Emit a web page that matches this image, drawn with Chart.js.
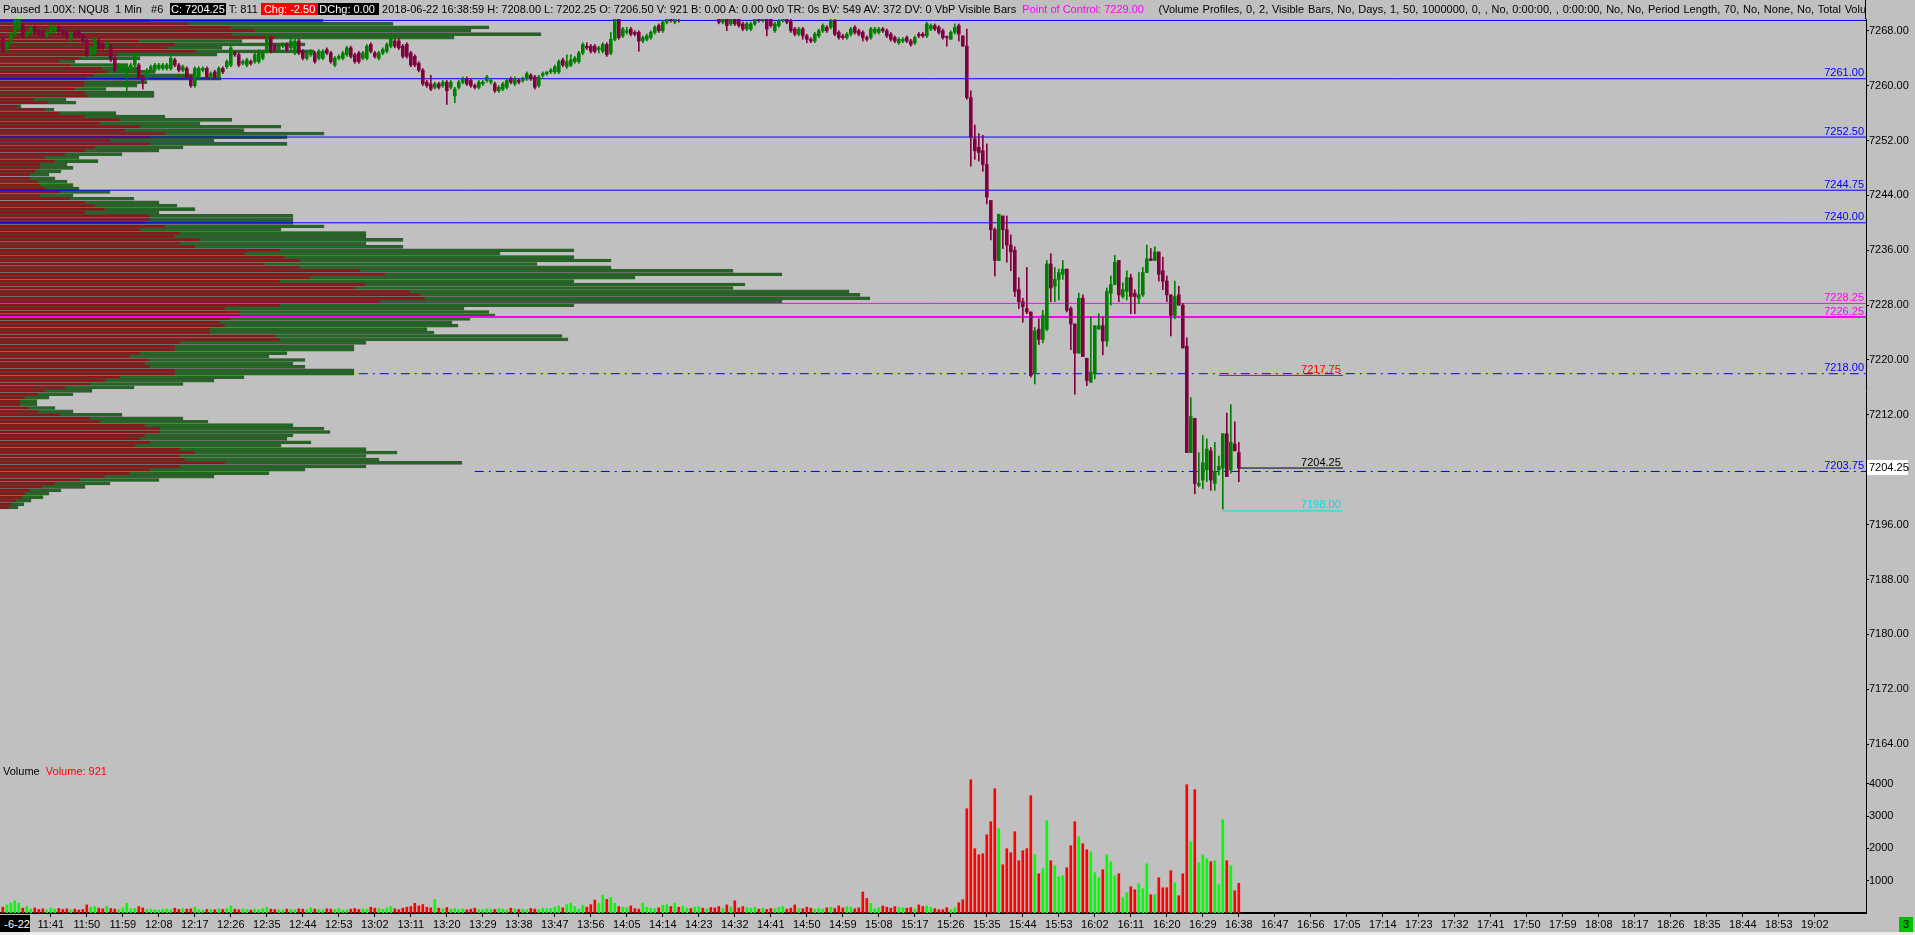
<!DOCTYPE html>
<html>
<head>
<meta charset="utf-8">
<script src="https://cdn.jsdelivr.net/npm/chart.js@4.4.0/dist/chart.umd.min.js"></script>
<style>
  html, body { margin: 0; padding: 0; background: #c0c0c0; overflow: hidden; }
  #wrap { position: relative; width: 1915px; height: 935px; font-family: "Liberation Sans", Arial, sans-serif; }
  canvas { position: absolute; left: 0; top: 0; }
  #header { position: absolute; left: 0; top: 0; width: 1865px; height: 18px; overflow: hidden; white-space: pre; font-size: 11px; line-height: 18px; color: #000; }
  #header .lead { display: inline-block; width: 170px; }
  #header .blk { background: #000; color: #fff; padding: 0 1px; }
  #header .red { background: #ff0000; color: #fff; padding: 0 3px; }
  #header .mag { color: #ff00ff; }
  #header .tail { margin-left: 7px; word-spacing: 0.7px; }
  #axisTop { position: absolute; left: 1865px; top: 0; width: 1px; height: 19px; background: #000; }
  #volTitle { position: absolute; left: 3px; top: 765px; font-size: 11px; white-space: pre; }
  #volTitle span { color: #ff0000; }
  #dateBox { position: absolute; left: 0; top: 915px; width: 30px; height: 18px; background: #000; color: #fff; font-size: 11px; line-height: 18px; text-align: right; overflow: hidden; }
  #okBox { position: absolute; left: 1899px; top: 917px; width: 14px; height: 15px; background: #00c000; color: #000; font-size: 11px; line-height: 15px; text-align: center; }
  #strip { position: absolute; left: 0; top: 932px; width: 1915px; height: 3px; background: #ececec; }
</style>
</head>
<body>
<div id="wrap">
  <canvas id="profile" width="1915" height="935"></canvas>
  <canvas id="chart" width="1915" height="935"></canvas>
  <div id="header"><span class="lead"> Paused 1.00X: NQU8  1 Min   #6</span><span class="blk">C: 7204.25</span> T: 811 <span class="red">Chg: -2.50</span><span class="blk">DChg: 0.00 </span> 2018-06-22 16:38:59 H: 7208.00 L: 7202.25 O: 7206.50 V: 921 B: 0.00 A: 0.00 0x0 TR: 0s BV: 549 AV: 372 DV: 0 VbP Visible Bars  <span class="mag">Point of Control: 7229.00</span><span class="tail">  (Volume Profiles, 0, 2, Visible Bars, No, Days, 1, 50, 1000000, 0, , No, 0:00:00, , 0:00:00, No, No, Period Length, 70, No, None, No, Total Volume)</span></div>
  <div id="axisTop"></div>
  <div id="volTitle">Volume  <span>Volume: 921</span></div>
  <div id="dateBox">-6-22</div>
  <div id="okBox">3</div>
  <div id="strip"></div>
</div>
<script>
// one-minute bars, NQU8, from 11:29 to 16:38
const firstBar = '11:29';

const openP = [
  7266.75, 7265.25, 7266.25, 7267.5, 7268.25, 7268.75, 7267.25, 7267.75, 7268.5, 7268.0,
  7267.75, 7267.25, 7267.75, 7268.0, 7268.5, 7268.0, 7267.75, 7266.75, 7267.75, 7268.0,
  7267.25, 7266.5, 7264.5, 7264.75, 7266.5, 7266.0, 7265.5, 7265.75, 7264.0, 7262.25,
  7262.25, 7262.25, 7262.25, 7263.0, 7263.0, 7261.25, 7261.25, 7262.25, 7262.25, 7262.5,
  7262.5, 7262.5, 7262.5, 7263.75, 7263.0, 7262.25, 7262.5, 7261.25, 7260.0, 7261.25,
  7262.25, 7262.5, 7261.25, 7262.0, 7261.25, 7262.5, 7262.75, 7263.0, 7264.75, 7264.5,
  7263.25, 7263.0, 7263.5, 7263.5, 7263.5, 7264.0, 7265.0, 7266.75, 7265.75, 7265.25,
  7265.75, 7266.0, 7265.5, 7264.75, 7266.5, 7265.0, 7264.0, 7264.5, 7264.75, 7264.0,
  7264.0, 7265.25, 7264.75, 7263.0, 7264.0, 7264.0, 7264.5, 7265.5, 7264.5, 7264.75,
  7264.0, 7264.0, 7266.0, 7264.75, 7264.0, 7264.75, 7265.0, 7265.75, 7266.5, 7266.5,
  7265.75, 7266.0, 7264.75, 7264.25, 7263.25, 7262.25, 7260.5, 7260.25, 7259.75, 7260.25,
  7260.0, 7260.5, 7259.75, 7258.5, 7259.75, 7260.5, 7261.0, 7260.75, 7260.0, 7259.75,
  7260.25, 7260.75, 7260.5, 7260.25, 7259.25, 7259.5, 7259.75, 7261.0, 7260.25, 7260.75,
  7260.75, 7261.0, 7261.5, 7261.25, 7260.0, 7261.5, 7261.75, 7262.0, 7262.0, 7262.0,
  7263.75, 7262.75, 7263.0, 7263.5, 7263.5, 7264.75, 7265.75, 7265.75, 7265.75, 7265.25,
  7265.0, 7266.0, 7264.75, 7266.75, 7270.0, 7267.25, 7267.75, 7268.25, 7267.75, 7267.75,
  7266.5, 7266.75, 7267.0, 7267.75, 7268.75, 7268.0, 7269.25, 7270.5, 7269.25, 7270.5,
  7270.5, 7271.25, 7271.75, 7271.0, 7271.5, 7272.0, 7271.25, 7271.5, 7270.75, 7270.25,
  7269.25, 7270.25, 7269.0, 7270.0, 7270.0, 7269.0, 7268.25, 7268.25, 7269.0, 7270.0,
  7269.5, 7270.0, 7270.0, 7268.0, 7268.75, 7269.5, 7270.0, 7269.5, 7268.25, 7267.5,
  7268.25, 7267.25, 7266.75, 7266.5, 7267.25, 7268.0, 7268.5, 7268.5, 7269.5, 7267.75,
  7267.25, 7267.0, 7267.5, 7268.5, 7268.0, 7267.75, 7267.0, 7267.0, 7267.75, 7267.75,
  7268.25, 7268.0, 7267.5, 7267.0, 7266.25, 7266.5, 7267.0, 7266.5, 7266.25, 7267.5,
  7267.5, 7267.25, 7268.25, 7268.75, 7268.5, 7268.0, 7267.0, 7266.75, 7267.75, 7268.75,
  7267.25, 7265.75, 7258.25, 7252.25, 7251.0, 7250.5, 7248.5, 7243.25, 7239.0, 7234.5,
  7241.0, 7239.0, 7236.75, 7236.0, 7230.25, 7228.5, 7227.5, 7227.0, 7218.0, 7224.5,
  7223.0, 7224.5, 7234.0, 7230.75, 7231.75, 7232.5, 7233.25, 7227.5, 7225.25, 7221.0,
  7229.0, 7220.25, 7216.75, 7218.0, 7224.5, 7225.0, 7222.75, 7229.75, 7231.0, 7234.5,
  7229.25, 7230.0, 7232.0, 7229.75, 7229.0, 7229.5, 7232.75, 7234.75, 7234.5, 7235.75,
  7233.0, 7231.5, 7229.5, 7226.5, 7229.5, 7228.0, 7222.0, 7206.5, 7211.5, 7201.75,
  7202.5, 7204.0, 7206.75, 7202.0, 7204.0, 7204.25, 7209.25, 7204.0, 7207.75, 7206.5
];
const highP = [
  7267.0, 7266.5, 7267.75, 7269.75, 7269.75, 7269.0, 7268.0, 7268.75, 7268.75, 7268.25,
  7268.0, 7268.0, 7269.0, 7268.75, 7268.75, 7268.25, 7268.0, 7267.75, 7268.0, 7268.25,
  7267.5, 7266.75, 7265.75, 7267.0, 7266.75, 7266.25, 7266.5, 7266.0, 7264.25, 7263.25,
  7263.0, 7263.0, 7263.25, 7264.75, 7263.25, 7261.5, 7262.5, 7263.0, 7263.25, 7263.25,
  7263.25, 7263.25, 7264.25, 7264.0, 7263.25, 7263.0, 7262.75, 7261.5, 7262.75, 7262.75,
  7262.75, 7262.75, 7262.0, 7262.25, 7262.75, 7262.75, 7263.75, 7265.75, 7265.0, 7264.75,
  7263.75, 7264.0, 7263.75, 7264.75, 7265.25, 7265.0, 7267.25, 7267.0, 7266.0, 7266.0,
  7266.25, 7266.25, 7266.75, 7266.75, 7266.75, 7265.25, 7265.0, 7265.25, 7265.0, 7265.25,
  7265.25, 7265.5, 7265.0, 7264.25, 7264.5, 7265.0, 7265.75, 7265.75, 7264.75, 7265.0,
  7265.0, 7266.0, 7266.25, 7265.0, 7265.0, 7265.5, 7266.25, 7267.25, 7266.75, 7266.75,
  7266.0, 7266.25, 7265.0, 7264.5, 7263.5, 7262.5, 7260.75, 7261.5, 7260.5, 7260.5,
  7260.75, 7260.75, 7260.75, 7259.75, 7260.75, 7261.25, 7261.25, 7261.0, 7260.25, 7260.75,
  7260.75, 7261.5, 7261.0, 7260.5, 7260.0, 7260.5, 7261.0, 7261.25, 7261.25, 7261.0,
  7261.25, 7262.0, 7261.75, 7261.5, 7261.5, 7262.0, 7262.0, 7262.5, 7263.0, 7263.75,
  7264.0, 7264.5, 7264.5, 7264.25, 7265.0, 7266.25, 7266.25, 7266.0, 7266.0, 7265.75,
  7266.25, 7266.25, 7267.75, 7270.5, 7270.5, 7268.5, 7268.5, 7268.5, 7268.0, 7268.0,
  7267.25, 7267.5, 7268.0, 7268.75, 7269.0, 7269.5, 7270.75, 7270.75, 7270.5, 7270.75,
  7271.5, 7272.0, 7272.0, 7271.75, 7272.25, 7272.25, 7271.75, 7271.75, 7271.0, 7270.5,
  7270.5, 7270.5, 7270.5, 7270.25, 7270.25, 7269.25, 7269.25, 7269.25, 7270.0, 7270.25,
  7270.25, 7270.25, 7270.25, 7269.25, 7269.75, 7270.5, 7270.25, 7269.75, 7268.5, 7268.5,
  7268.5, 7267.5, 7267.0, 7267.75, 7268.25, 7269.0, 7268.75, 7269.75, 7269.75, 7268.0,
  7267.5, 7267.75, 7268.5, 7268.75, 7268.25, 7268.0, 7267.25, 7268.5, 7268.5, 7268.5,
  7268.5, 7268.25, 7267.75, 7267.25, 7267.0, 7267.0, 7267.25, 7266.75, 7267.25, 7267.75,
  7267.75, 7269.25, 7269.0, 7269.0, 7268.75, 7268.25, 7267.25, 7268.0, 7269.0, 7269.0,
  7267.25, 7268.25, 7259.25, 7254.25, 7253.0, 7252.75, 7251.5, 7243.25, 7239.25, 7241.25,
  7241.0, 7241.0, 7238.25, 7236.5, 7232.0, 7229.0, 7233.5, 7227.0, 7224.75, 7226.0,
  7227.25, 7234.5, 7235.5, 7233.5, 7233.25, 7234.5, 7233.25, 7227.75, 7225.25, 7229.75,
  7229.5, 7220.25, 7226.25, 7225.0, 7226.75, 7226.25, 7230.5, 7232.25, 7235.25, 7234.5,
  7231.25, 7233.0, 7232.5, 7230.25, 7232.75, 7233.5, 7236.75, 7236.25, 7236.5, 7235.75,
  7235.0, 7232.25, 7229.5, 7231.5, 7230.75, 7228.25, 7223.25, 7214.5, 7211.5, 7206.5,
  7209.0, 7208.5, 7207.25, 7208.0, 7206.0, 7209.25, 7212.25, 7213.5, 7211.0, 7208.0
];
const lowP = [
  7265.0, 7265.0, 7266.0, 7267.25, 7268.0, 7267.0, 7267.0, 7267.5, 7267.5, 7267.25,
  7267.0, 7267.0, 7267.5, 7267.75, 7267.75, 7267.25, 7266.75, 7266.5, 7267.0, 7267.0,
  7266.25, 7264.25, 7264.25, 7264.5, 7265.25, 7265.25, 7265.25, 7263.5, 7262.0, 7262.0,
  7262.0, 7259.25, 7262.0, 7262.75, 7261.0, 7259.5, 7261.0, 7262.0, 7262.0, 7262.25,
  7262.25, 7262.25, 7262.25, 7262.75, 7262.0, 7262.0, 7261.0, 7259.75, 7259.75, 7261.0,
  7262.0, 7261.0, 7261.0, 7261.0, 7261.0, 7261.75, 7262.5, 7262.75, 7264.25, 7262.75,
  7263.0, 7262.75, 7263.0, 7263.25, 7263.25, 7263.75, 7264.75, 7264.75, 7265.0, 7265.0,
  7265.5, 7265.0, 7265.25, 7264.5, 7264.5, 7263.75, 7263.75, 7264.25, 7263.25, 7263.75,
  7263.75, 7264.5, 7263.25, 7262.75, 7263.75, 7263.75, 7264.25, 7264.0, 7263.25, 7263.25,
  7263.75, 7263.75, 7264.75, 7264.0, 7263.75, 7264.5, 7264.75, 7265.5, 7265.5, 7265.25,
  7264.0, 7264.0, 7262.75, 7262.75, 7262.0, 7260.0, 7259.75, 7259.25, 7259.5, 7259.5,
  7259.75, 7257.25, 7259.5, 7257.5, 7259.5, 7260.25, 7260.0, 7259.75, 7259.5, 7259.5,
  7260.0, 7260.5, 7260.25, 7259.0, 7259.0, 7259.25, 7259.5, 7260.25, 7260.0, 7260.25,
  7260.5, 7260.75, 7260.75, 7259.5, 7259.75, 7261.25, 7261.5, 7261.75, 7261.75, 7261.75,
  7262.75, 7262.5, 7262.75, 7263.25, 7263.25, 7264.5, 7265.25, 7264.75, 7264.75, 7264.75,
  7264.75, 7264.25, 7264.5, 7266.5, 7266.75, 7267.0, 7267.5, 7267.25, 7267.25, 7265.0,
  7266.25, 7266.5, 7266.75, 7267.5, 7267.75, 7267.75, 7269.0, 7269.25, 7269.0, 7269.25,
  7270.25, 7271.0, 7270.75, 7270.75, 7271.25, 7271.0, 7271.0, 7270.5, 7270.25, 7269.0,
  7269.0, 7268.0, 7268.75, 7268.75, 7268.5, 7268.0, 7268.0, 7268.0, 7268.75, 7269.25,
  7269.25, 7267.25, 7268.5, 7267.75, 7268.5, 7269.25, 7269.0, 7267.75, 7267.25, 7267.25,
  7266.75, 7266.25, 7266.25, 7266.25, 7267.0, 7267.75, 7267.75, 7268.25, 7267.25, 7266.75,
  7266.75, 7266.75, 7267.25, 7267.5, 7267.25, 7266.5, 7266.5, 7266.75, 7267.5, 7267.5,
  7267.75, 7267.0, 7266.5, 7266.25, 7266.0, 7266.25, 7266.25, 7265.75, 7266.0, 7267.0,
  7267.0, 7267.0, 7268.0, 7268.0, 7267.5, 7266.75, 7265.75, 7266.75, 7267.5, 7266.5,
  7265.75, 7258.0, 7248.25, 7249.25, 7249.0, 7247.5, 7242.75, 7237.5, 7232.25, 7234.5,
  7236.25, 7234.25, 7233.0, 7229.25, 7227.5, 7225.5, 7226.75, 7217.5, 7216.5, 7222.25,
  7222.5, 7224.25, 7228.5, 7228.5, 7228.75, 7231.75, 7227.0, 7221.5, 7215.0, 7221.0,
  7220.5, 7216.25, 7216.75, 7217.25, 7224.5, 7220.75, 7222.0, 7228.0, 7231.0, 7228.5,
  7229.0, 7228.75, 7226.75, 7226.75, 7228.25, 7229.25, 7232.75, 7234.5, 7234.5, 7231.5,
  7230.25, 7228.5, 7223.5, 7226.0, 7228.0, 7221.75, 7206.5, 7206.5, 7200.5, 7201.5,
  7201.25, 7202.25, 7201.0, 7201.0, 7203.25, 7198.25, 7203.0, 7203.5, 7206.75, 7202.25
];
const closeP = [
  7265.25, 7266.25, 7267.5, 7269.5, 7269.5, 7267.25, 7267.75, 7268.5, 7267.75, 7267.5,
  7267.25, 7267.75, 7268.75, 7268.5, 7268.0, 7267.5, 7267.0, 7267.5, 7267.25, 7267.25,
  7266.5, 7264.5, 7265.5, 7266.75, 7265.5, 7265.5, 7266.25, 7263.75, 7262.25, 7263.0,
  7262.75, 7262.75, 7263.0, 7264.5, 7261.25, 7260.75, 7262.25, 7262.75, 7263.0, 7263.0,
  7263.0, 7263.0, 7264.0, 7263.0, 7262.25, 7262.75, 7261.25, 7260.0, 7262.5, 7262.5,
  7262.5, 7261.25, 7261.75, 7261.25, 7262.5, 7262.0, 7263.5, 7265.5, 7264.5, 7263.0,
  7263.5, 7263.75, 7263.25, 7264.5, 7265.0, 7264.75, 7267.0, 7265.0, 7265.25, 7265.75,
  7266.0, 7265.25, 7266.5, 7266.5, 7264.75, 7264.0, 7264.75, 7265.0, 7263.5, 7265.0,
  7265.0, 7264.75, 7263.5, 7264.0, 7264.25, 7264.75, 7265.5, 7264.25, 7263.5, 7263.5,
  7264.75, 7265.75, 7265.0, 7264.25, 7264.75, 7265.25, 7266.0, 7267.0, 7265.75, 7265.5,
  7264.25, 7264.25, 7263.0, 7263.0, 7262.25, 7260.25, 7260.0, 7259.5, 7260.25, 7259.75,
  7260.5, 7259.25, 7260.5, 7259.5, 7260.5, 7261.0, 7260.25, 7260.0, 7259.75, 7260.5,
  7260.5, 7261.25, 7260.75, 7259.25, 7259.75, 7260.25, 7260.75, 7260.5, 7261.0, 7260.5,
  7261.0, 7261.75, 7261.0, 7259.75, 7261.25, 7261.75, 7262.0, 7262.25, 7262.75, 7263.5,
  7263.0, 7263.5, 7263.75, 7264.0, 7264.75, 7266.0, 7265.5, 7265.0, 7265.0, 7265.5,
  7266.0, 7264.5, 7266.75, 7270.25, 7267.0, 7268.25, 7268.0, 7267.5, 7267.5, 7266.5,
  7267.0, 7267.25, 7267.75, 7268.5, 7268.0, 7269.25, 7270.5, 7269.5, 7270.25, 7270.25,
  7271.25, 7271.75, 7271.0, 7271.5, 7272.0, 7271.25, 7271.5, 7270.75, 7270.5, 7269.25,
  7270.25, 7268.75, 7270.25, 7269.0, 7268.75, 7268.25, 7269.0, 7269.0, 7269.75, 7269.5,
  7270.0, 7268.25, 7268.75, 7269.0, 7269.5, 7270.25, 7269.25, 7268.0, 7267.5, 7268.25,
  7267.25, 7266.75, 7266.5, 7267.5, 7268.0, 7268.75, 7268.0, 7269.5, 7267.5, 7267.0,
  7267.0, 7267.5, 7268.25, 7267.75, 7267.5, 7267.0, 7266.75, 7268.25, 7268.25, 7268.25,
  7268.0, 7267.25, 7266.75, 7266.5, 7266.75, 7266.75, 7266.5, 7266.0, 7267.0, 7267.25,
  7267.25, 7269.0, 7268.75, 7268.25, 7267.75, 7267.0, 7267.0, 7267.75, 7268.5, 7267.5,
  7265.75, 7258.25, 7252.5, 7250.5, 7250.25, 7248.5, 7243.75, 7239.0, 7234.5, 7241.25,
  7239.0, 7236.75, 7235.75, 7230.0, 7228.5, 7227.75, 7227.0, 7217.75, 7224.25, 7223.0,
  7226.5, 7234.0, 7230.5, 7231.75, 7232.75, 7233.25, 7227.25, 7225.25, 7221.0, 7229.0,
  7220.5, 7217.0, 7218.25, 7225.0, 7225.0, 7222.75, 7230.0, 7231.0, 7234.25, 7229.5,
  7230.25, 7232.0, 7229.25, 7229.25, 7229.5, 7232.75, 7234.75, 7234.5, 7235.75, 7232.5,
  7231.5, 7229.5, 7226.5, 7229.25, 7228.0, 7221.75, 7206.5, 7211.75, 7202.0, 7202.0,
  7205.0, 7207.0, 7202.5, 7203.75, 7204.5, 7209.25, 7203.0, 7208.0, 7206.75, 7204.25
];
const volume = [
  180, 250, 310, 380, 300, 150, 200, 120, 160, 110,
  130, 100, 150, 120, 140, 110, 130, 100, 120, 90,
  110, 250, 180, 200, 150, 130, 210, 140, 120, 100,
  160, 300, 130, 140, 200, 160, 110, 120, 100, 90,
  120, 130, 100, 150, 110, 140, 120, 130, 180, 100,
  90, 110, 120, 100, 130, 110, 140, 220, 120, 100,
  130, 110, 90, 120, 100, 140, 180, 120, 110, 100,
  90, 120, 110, 100, 130, 120, 100, 160, 120, 110,
  100, 130, 120, 110, 140, 90, 100, 120, 140, 110,
  130, 120, 180, 150, 140, 110, 160, 200, 130, 100,
  150, 180, 200, 300, 220, 260, 180, 160, 420, 150,
  130, 170, 120, 140, 110, 130, 100, 120, 150, 110,
  100, 130, 120, 110, 140, 120, 100, 150, 130, 110,
  120, 100, 140, 120, 110, 150, 130, 140, 180, 220,
  160, 260, 300, 200, 120, 240, 180, 260, 400, 300,
  550, 420, 480, 300, 200, 180, 160, 220, 140, 120,
  300, 180, 150, 130, 160, 240, 260, 200, 300, 180,
  220, 160, 140, 180, 200, 150, 130, 170, 160, 200,
  140, 250, 190, 380, 160, 200, 170, 150, 180, 120,
  150, 110, 140, 130, 170, 200, 120, 150, 250, 140,
  130, 180, 150, 120, 140, 120, 160, 180, 140, 220,
  160, 200, 180, 130, 160, 650, 450, 300, 130, 160,
  220, 180, 150, 200, 170, 160, 150, 170, 130, 250,
  200, 220, 175, 133, 102, 100, 164, 100, 164, 319,
  412, 3229, 4127, 1991, 1805, 1836, 2424, 2827, 3848, 2610,
  1495, 1991, 1867, 2517, 1619, 1929, 1991, 3632, 1805, 1217,
  1372, 2858, 1619, 1465, 1124, 1155, 1403, 2084, 2827, 2362,
  2146, 1960, 1898, 1248, 1093, 1341, 1805, 1588, 1155, 1217,
  474, 628, 814, 721, 907, 752, 1526, 567, 567, 1093,
  783, 783, 1310, 938, 536, 1217, 3972, 2207, 3817, 1557,
  1805, 1681, 1588, 1619, 876, 2889, 1619, 1465, 690, 921
];

// volume profile, rows of 2 ticks (0.5 pt) from 7269.50 down
const profTop = 7269.5;
const profStep = 0.5;
const profSell = [
  600, 756, 924, 1020, 928, 1100, 556, 700, 672, 784,
  472, 320, 236, 284, 408, 428, 376, 344, 340, 336,
  300, 340, 352, 136, 192, 72, 180, 240, 340, 480,
  400, 560, 500, 660, 600, 440, 600, 380, 340, 260,
  180, 220, 160, 160, 140, 120, 120, 152, 160, 180,
  240, 160, 280, 340, 380, 420, 340, 600, 600, 580,
  660, 560, 720, 700, 800, 720, 780, 1120, 980, 1140,
  1200, 1060, 1200, 1440, 1540, 1240, 1120, 1460, 1420, 1640,
  1680, 1700, 1520, 1120, 900, 960, 960, 920, 880, 900,
  840, 840, 1100, 1120, 720, 700, 700, 560, 520, 600,
  580, 600, 700, 700, 480, 420, 360, 260, 180, 152,
  100, 80, 80, 112, 152, 240, 360, 400, 580, 640,
  640, 580, 560, 600, 540, 720, 780, 720, 740, 900,
  720, 600, 520, 420, 320, 220, 168, 120, 100, 88,
  64, 48, 36
];
const profBuy = [
  692, 816, 1032, 864, 1236, 716, 412, 520, 216, 472,
  396, 240, 64, 228, 140, 192, 404, 540, 248, 212,
  124, 276, 264, 128, 112, 12, 36, 224, 320, 448,
  400, 564, 476, 636, 548, 416, 548, 352, 296, 228,
  136, 172, 108, 132, 104, 76, 100, 116, 132, 136,
  200, 132, 256, 296, 328, 360, 296, 572, 572, 592,
  636, 564, 744, 764, 812, 744, 832, 1176, 1020, 1156,
  1244, 1088, 1244, 1492, 1588, 1300, 1176, 1520, 1512, 1756,
  1760, 1780, 1608, 1176, 956, 996, 1020, 960, 928, 932,
  868, 896, 1148, 1152, 744, 716, 716, 588, 556, 620,
  592, 620, 716, 716, 496, 436, 372, 276, 188, 140,
  96, 68, 68, 108, 140, 248, 372, 432, 592, 656,
  680, 592, 588, 644, 584, 744, 808, 744, 776, 948,
  744, 620, 556, 436, 316, 220, 172, 124, 96, 84,
  60, 48, 36
];

const priceTicks = [7164, 7168, 7172, 7176, 7180, 7184, 7188, 7192, 7196, 7200, 7204, 7208, 7212,
  7216, 7220, 7224, 7228, 7232, 7236, 7240, 7244, 7248, 7252, 7256, 7260, 7264, 7268];
const volTicks = [1000, 2000, 3000, 4000];
const timeLabels = ['11:41', '11:50', '11:59', '12:08', '12:17', '12:26', '12:35', '12:44', '12:53', '13:02',
  '13:11', '13:20', '13:29', '13:38', '13:47', '13:56', '14:05', '14:14', '14:23', '14:32',
  '14:41', '14:50', '14:59', '15:08', '15:17', '15:26', '15:35', '15:44', '15:53', '16:02',
  '16:11', '16:20', '16:29', '16:38', '16:47', '16:56', '17:05', '17:14', '17:23', '17:32',
  '17:41', '17:50', '17:59', '18:08', '18:17', '18:26', '18:35', '18:44', '18:53', '19:02'];

// drawn horizontal levels
const levelPrice = [7269.50, 7261.00, 7252.50, 7244.75, 7240.00, 7228.25, 7226.25, 7218.00, 7203.75];
const levelFrom  = ['11:28', '11:28', '11:28', '11:28', '11:28', '11:28', '11:28', '12:58', '13:27'];
// short markers to the right of the last bar
const markPrice = [7217.75, 7204.25, 7198.00];
const markFrom  = ['16:33', '16:38', '16:34'];
const markTo    = '17:04';
const lastPrice = 7204.25;

// ---- layout / style (not data) ----
const xMin = 688.3, xMax = 1154.8;       // minutes of day at chart edges
const pMin = 7161.25, pMax = 7269.71;
const vMax = 4644;
const profMax = 7464;
const levelStyle = [
  { color: '#0000ff', width: 1, dash: [], label: false },
  { color: '#0000ff', width: 1, dash: [], label: true },
  { color: '#0000ff', width: 1, dash: [], label: true },
  { color: '#0000ff', width: 1, dash: [], label: true },
  { color: '#0000ff', width: 1, dash: [], label: true },
  { color: '#ff00ff', width: 1, dash: [], label: true },
  { color: '#ff00ff', width: 2, dash: [], label: true },
  { color: '#0000ff', width: 1, dash: [9, 5, 2, 5], label: true },
  { color: '#0000ff', width: 1, dash: [9, 5, 2, 5], label: true }
];
const markColor = ['#ff0000', '#000000', '#00e0e0'];

const toMin = s => { const [h, m] = s.split(':').map(Number); return h * 60 + m; };
const t0 = toMin(firstBar);
const barX = openP.map((_, i) => t0 + i);
const isUp = openP.map((o, i) => closeP[i] > o);
const profPrice = profSell.map((_, i) => profTop - i * profStep);

const FONT = '"Liberation Sans", Arial, sans-serif';
Chart.defaults.font.family = FONT;
Chart.defaults.font.size = 11;
Chart.defaults.color = '#000';

// volume profile underneath the price pane
new Chart(document.getElementById('profile'), {
  type: 'bar',
  data: {
    datasets: [
      {
        label: 'sell',
        data: profPrice.map((p, i) => ({ x: profSell[i], y: p })),
        backgroundColor: '#8a1616',
        borderColor: '#4a4a4a',
        borderWidth: 0.6,
        barThickness: 3
      },
      {
        label: 'buy',
        data: profPrice.map((p, i) => ({ x: profBuy[i], y: p })),
        backgroundColor: '#1f6a1f',
        borderColor: '#4a4a4a',
        borderWidth: 0.6,
        barThickness: 3
      }
    ]
  },
  options: {
    indexAxis: 'y',
    responsive: false,
    animation: false,
    devicePixelRatio: 1,
    events: [],
    layout: { padding: { top: 19, left: 0, right: 49, bottom: 172 } },
    plugins: { legend: { display: false }, tooltip: { enabled: false } },
    scales: {
      x: { type: 'linear', min: 0, max: profMax, stacked: true, display: false },
      y: { type: 'linear', min: pMin, max: pMax, stacked: true, display: false, offset: false }
    }
  }
});

const levelSets = levelPrice.map((p, k) => ({
  type: 'line',
  yAxisID: 'price',
  data: [{ x: toMin(levelFrom[k]), y: p }, { x: xMax, y: p }],
  borderColor: levelStyle[k].color,
  borderWidth: levelStyle[k].width,
  borderDash: levelStyle[k].dash,
  pointRadius: 0,
  order: 5
}));
const markSets = markPrice.map((p, k) => ({
  type: 'line',
  yAxisID: 'price',
  data: [{ x: toMin(markFrom[k]), y: p }, { x: toMin(markTo), y: p }],
  borderColor: markColor[k],
  borderWidth: 1,
  pointRadius: 0,
  order: 4
}));

const labelPlugin = {
  id: 'labels',
  afterDatasetsDraw(chart) {
    const { ctx, chartArea } = chart;
    const x = chart.scales.x, y = chart.scales.price;
    ctx.save();
    ctx.font = '11px ' + FONT;
    ctx.textAlign = 'right';
    ctx.textBaseline = 'bottom';
    levelPrice.forEach((p, k) => {
      if (!levelStyle[k].label) return;
      ctx.fillStyle = levelStyle[k].color;
      ctx.fillText(p.toFixed(2), chartArea.right - 2, y.getPixelForValue(p));
    });
    markPrice.forEach((p, k) => {
      ctx.fillStyle = markColor[k];
      ctx.fillText(p.toFixed(2), x.getPixelForValue(toMin(markTo)) - 2, y.getPixelForValue(p));
    });
    // last price box on the axis
    const ly = y.getPixelForValue(lastPrice);
    ctx.fillStyle = '#fff';
    ctx.fillRect(chartArea.right + 1, ly - 8, 41, 15);
    ctx.fillStyle = '#000';
    ctx.textAlign = 'left';
    ctx.textBaseline = 'middle';
    ctx.fillText(lastPrice.toFixed(2), chartArea.right + 3, ly);
    ctx.restore();
  }
};

new Chart(document.getElementById('chart'), {
  type: 'bar',
  data: {
    datasets: [
      {
        label: 'body',
        yAxisID: 'price',
        data: barX.map((t, i) => ({ x: t, y: [openP[i], closeP[i]] })),
        backgroundColor: isUp.map(u => u ? '#008000' : '#800040'),
        barThickness: 3,
        minBarLength: 1,
        grouped: false,
        order: 1
      },
      {
        label: 'wick',
        yAxisID: 'price',
        data: barX.map((t, i) => ({ x: t, y: [lowP[i], highP[i]] })),
        backgroundColor: isUp.map(u => u ? '#008000' : '#800040'),
        barThickness: 1,
        grouped: false,
        order: 2
      },
      {
        label: 'volume',
        yAxisID: 'vol',
        data: barX.map((t, i) => ({ x: t, y: volume[i] })),
        backgroundColor: isUp.map(u => u ? '#00ff00' : '#ff0000'),
        barThickness: 2,
        grouped: false,
        order: 3
      },
      ...levelSets,
      ...markSets
    ]
  },
  options: {
    responsive: false,
    animation: false,
    devicePixelRatio: 1,
    events: [],
    layout: { padding: { top: 19, left: 0, right: 0, bottom: 0 } },
    plugins: { legend: { display: false }, tooltip: { enabled: false } },
    scales: {
      x: {
        type: 'linear',
        position: 'bottom',
        min: xMin,
        max: xMax,
        offset: false,
        grid: { offset: false, drawOnChartArea: false, drawTicks: true, tickLength: 4, color: '#000' },
        border: { display: true, color: '#000', width: 2 },
        afterBuildTicks: s => { s.ticks = timeLabels.map(t => ({ value: toMin(t) })); },
        afterFit: s => { s.height = 22; },
        ticks: {
          autoSkip: false,
          maxRotation: 0,
          padding: 1,
          color: '#000',
          callback: (v, i) => timeLabels[i]
        }
      },
      price: {
        type: 'linear',
        position: 'right',
        stack: 'panes',
        stackWeight: 744,
        min: pMin,
        max: pMax,
        grid: { drawOnChartArea: false, drawTicks: true, tickLength: 3, color: '#000' },
        border: { display: true, color: '#000', width: 1 },
        afterBuildTicks: s => { s.ticks = priceTicks.map(v => ({ value: v })); },
        afterFit: s => { s.width = 49; },
        ticks: { padding: 0, color: '#000', callback: v => v.toFixed(2) }
      },
      vol: {
        type: 'linear',
        position: 'right',
        stack: 'panes',
        stackWeight: 150,
        min: 0,
        max: vMax,
        grid: { drawOnChartArea: false, drawTicks: true, tickLength: 3, color: '#000' },
        border: { display: true, color: '#000', width: 1 },
        afterBuildTicks: s => { s.ticks = volTicks.map(v => ({ value: v })); },
        afterFit: s => { s.width = 49; },
        ticks: { padding: 0, color: '#000', callback: v => String(v) }
      }
    }
  },
  plugins: [labelPlugin]
});
</script>
</body>
</html>
